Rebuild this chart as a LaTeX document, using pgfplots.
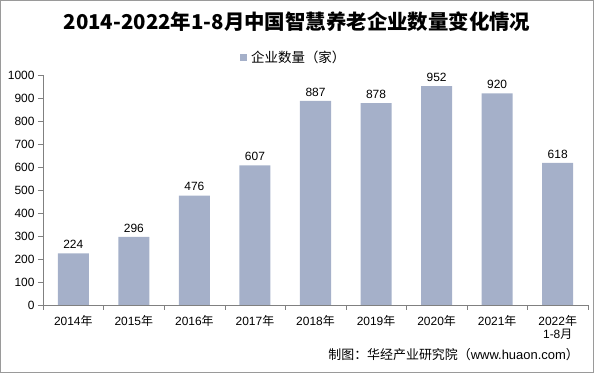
\documentclass[border=0pt]{standalone}
\usepackage{pgfplots}
\pgfplotsset{compat=1.18}
\usepackage{fontspec}
\setmainfont{Liberation Sans}
\newfontfamily\cjk{Noto Sans CJK SC}
\definecolor{barc}{HTML}{A5B0C9}
\definecolor{axc}{HTML}{808080}
\begin{document}
\begin{tikzpicture}
\useasboundingbox (0bp,0bp) rectangle (594bp,373bp);
\draw[axc!80, line width=1bp] (0.5bp,0.5bp) rectangle (593.5bp,372.5bp);
\node[font=\cjk\bfseries\fontsize{20.5}{20.5}\selectfont] at (297bp,351bp) {2014-2022年1-8月中国智慧养老企业数量变化情况};
\fill[barc] (240bp,312bp) rectangle (247bp,319bp);
\node[anchor=west, font=\cjk\fontsize{13.5}{13.5}\selectfont, inner sep=0pt] at (251bp,315.5bp) {企业数量（家）};
\node[anchor=east, font=\fontsize{13}{13}\selectfont, inner sep=0pt] at (579bp,18bp) {{\cjk 制图：华经产业研究院（}www.huaon.com{\cjk ）}};
\begin{axis}[
  at={(43bp,68bp)}, anchor=south west,
  width=545bp, height=230bp, scale only axis,
  xmin=-0.5, xmax=8.5, ymin=0, ymax=1000,
  ytick={0,100,...,1000},
  xtick={0,...,8},
  xticklabels={{2014{\cjk 年}},{2015{\cjk 年}},{2016{\cjk 年}},{2017{\cjk 年}},{2018{\cjk 年}},{2019{\cjk 年}},{2020{\cjk 年}},{2021{\cjk 年}},{2022{\cjk 年}\\1-8{\cjk 月}}},
  xticklabel style={align=center, font=\fontsize{12}{13}\selectfont, anchor=north, yshift=-2bp},
  yticklabel style={font=\fontsize{12}{12}\selectfont},
  /pgf/number format/assume math mode=true,
  /pgf/number format/1000 sep={},
  x tick style={draw=none},
  minor xtick={-0.5,0.5,...,8.5},
  minor x tick style={draw=axc},
  y tick style={draw=axc},
  tick align=outside,
  major tick length=5bp, minor tick length=5bp,
  axis x line*=bottom, axis y line*=left,
  axis line style={draw=axc, -},
  ybar, bar width=31bp,
  nodes near coords,
  every node near coord/.append style={font=\fontsize{12}{12}\selectfont, black, yshift=1bp},
]
\addplot[fill=barc, draw=none] coordinates {(0,224) (1,296) (2,476) (3,607) (4,887) (5,878) (6,952) (7,920) (8,618)};
\end{axis}
\end{tikzpicture}
\end{document}
